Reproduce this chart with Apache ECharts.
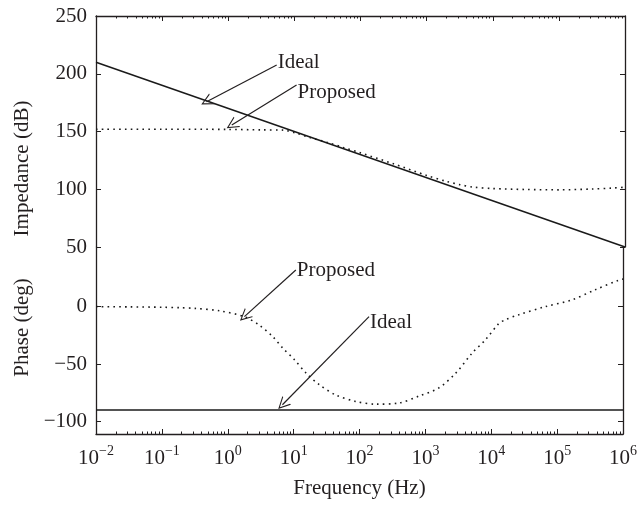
<!DOCTYPE html>
<html>
<head>
<meta charset="utf-8">
<script src="https://cdn.jsdelivr.net/npm/echarts@6/dist/echarts.min.js"></script>
<style>
html, body { margin: 0; padding: 0; background: #fff; }
#chart { width: 640px; height: 505px; }
</style>
</head>
<body>
<div id="chart"></div>
<script>
// frequencies in Hz, impedance in dB, phase in deg
const idealFreq = [0.01, 1e6];
const idealImpedance = [210, 50];
const idealPhase = [-90, -90];

const propZFreq = [0.01, 0.1, 1, 3.16, 6.8, 10, 17.8, 31.6, 56, 100, 316, 1000, 2000, 3160, 5000, 10000, 31600, 100000, 316000, 631000, 1000000];
const propZ = [152, 152, 151.8, 151.4, 151.2, 149, 144.5, 140.5, 136, 131.5, 122, 112, 106.8, 104, 101.9, 100.6, 99.8, 99.5, 100.2, 101, 101.8];

const propPFreq = [0.01, 0.032, 0.1, 0.19, 0.32, 0.76, 1.78, 3.0, 4.8, 6.8, 10.2, 15.5, 24.5, 43.7, 87, 174, 398, 794, 1585, 2884, 5130, 8130, 12900, 16200, 25700, 66100, 166000, 371500, 851000, 1000000];
const propPhase = [0, -0.2, -0.5, -0.9, -1.5, -3.7, -8.7, -16, -26, -36, -46, -58, -68, -77, -82.6, -85, -84, -78, -71, -58, -40.5, -29, -15, -11.5, -7.2, 0, 5.8, 14.5, 23, 24];

// axis ticks (exponents of 10 for the frequency axis)
const decades = [-2, -1, 0, 1, 2, 3, 4, 5, 6];
const impedanceTicks = [50, 100, 150, 200, 250];
const phaseTicks = [-100, -50, 0];

const minorTicks = [];
decades.slice(0, -1).forEach(d => {
  for (let k = 2; k <= 9; k++) minorTicks.push(d + Math.log10(k));
});

const ink = "#231f20";
const font = "'Liberation Serif', 'DejaVu Serif', serif";
const pair = (xs, ys) => xs.map((x, i) => [x, ys[i]]);
const minus = v => String(v).replace("-", "\u2212");

const arrowHead = "path://M5,0 L10,11 L9,11 L5,2.2 L1,11 L0,11 Z";

function annotation(text, tail, tip, dy) {
  return {
    markLine: {
      silent: true,
      symbol: ["none", arrowHead],
      symbolSize: 12,
      lineStyle: { color: ink, width: 1.2, type: "solid" },
      label: { show: false },
      emphasis: { disabled: true },
      data: [[{ coord: tail }, { coord: tip }]]
    },
    markPoint: {
      silent: true,
      symbol: "circle",
      symbolSize: 0,
      label: {
        show: true, position: "right", distance: 1, offset: [0, dy],
        formatter: text, color: ink, fontSize: 21, fontFamily: font
      },
      data: [{ coord: tail, name: text }]
    }
  };
}

const grids = [
  { left: 96, right: 15, top: 16, height: 231 },
  { left: 96, right: 15, top: 247, height: 187 }
];

function freqAxes(gridIndex, pos, labels) {
  return [
    { type: "log", logBase: 10, min: 0.01, max: 1e6, gridIndex: gridIndex, show: false },
    {
      type: "value", min: -2, max: 6, interval: 1, gridIndex: gridIndex, position: pos,
      axisLine: { onZero: false, lineStyle: { color: ink, width: 1.3 } },
      axisTick: { inside: true, length: 5, lineStyle: { color: ink } },
      splitLine: { show: false },
      axisLabel: {
        show: labels, margin: 10, color: ink, fontFamily: font,
        formatter: v => "{b|10}{s|" + minus(v) + "}",
        rich: {
          b: { fontSize: 21, fontFamily: font, color: ink },
          s: { fontSize: 14, fontFamily: font, color: ink, padding: [0, 0, 14, 0] }
        }
      },
      name: labels ? "Frequency (Hz)" : "",
      nameLocation: "middle", nameGap: 44,
      nameTextStyle: { fontSize: 21, fontFamily: font, color: ink }
    },
    {
      type: "value", min: -2, max: 6, gridIndex: gridIndex, position: pos,
      axisLine: { show: false, onZero: false },
      axisTick: { inside: true, length: 2.5, customValues: minorTicks, lineStyle: { color: ink } },
      axisLabel: { show: false },
      splitLine: { show: false }
    }
  ];
}

function valueAxes(gridIndex, min, max, ticks, name, namePad, interval) {
  const base = {
    type: "value", min: min, max: max, gridIndex: gridIndex,
    axisLine: { show: true, onZero: false, lineStyle: { color: ink, width: 1.3 } },
    splitLine: { show: false }
  };
  if (interval) base.interval = interval;
  const tick = { inside: true, length: 5, lineStyle: { color: ink } };
  if (!interval) tick.customValues = ticks;
  const left = Object.assign({}, base, {
    position: "left",
    axisTick: tick,
    axisLabel: Object.assign({
      margin: 9, color: ink, fontSize: 21, fontFamily: font, formatter: v => minus(v)
    }, interval ? {} : { customValues: ticks }),
    name: name, nameLocation: "middle", nameGap: 63,
    nameTextStyle: { fontSize: 21, fontFamily: font, color: ink, padding: namePad }
  });
  const right = Object.assign({}, base, {
    position: "right",
    axisTick: tick,
    axisLabel: { show: false }
  });
  return [left, right];
}

const chart = echarts.init(document.getElementById("chart"));
chart.setOption({
  animation: false,
  backgroundColor: "#fff",
  grid: grids,
  xAxis: [].concat(freqAxes(0, "top", false), freqAxes(1, "bottom", true)),
  yAxis: [].concat(
    valueAxes(0, 50, 250, impedanceTicks, "Impedance (dB)", [0, 74, 0, 0], 50),
    valueAxes(1, -111, 52, phaseTicks, "Phase (deg)", [0, 0, 0, 26], null)
  ),
  series: [
    Object.assign({
      name: "Ideal", type: "line", xAxisIndex: 0, yAxisIndex: 0,
      data: pair(idealFreq, idealImpedance), showSymbol: false,
      lineStyle: { color: "#1a1a1a", width: 1.5 }
    }, annotation("Ideal", [5.4, 207.6], [0.47, 175.8], -2)),
    Object.assign({
      name: "Proposed", type: "line", xAxisIndex: 0, yAxisIndex: 0,
      data: pair(propZFreq, propZ), showSymbol: false, smooth: 0.3,
      lineStyle: { color: "#1a1a1a", width: 1.6, type: [1.6, 4.2] }
    }, annotation("Proposed", [10.8, 190.3], [1.13, 155.6], 8)),
    Object.assign({
      name: "Ideal", type: "line", xAxisIndex: 3, yAxisIndex: 2,
      data: pair(idealFreq, idealPhase), showSymbol: false,
      lineStyle: { color: "#1a1a1a", width: 1.5 }
    }, annotation("Ideal", [139.6, -8.7], [6.76, -85.5], 6)),
    Object.assign({
      name: "Proposed", type: "line", xAxisIndex: 3, yAxisIndex: 2,
      data: pair(propPFreq, propPhase), showSymbol: false, smooth: 0.3,
      lineStyle: { color: "#1a1a1a", width: 1.6, type: [1.6, 4.2] }
    }, annotation("Proposed", [10.8, 31.9], [1.79, -8.7], 0))
  ]
});
</script>
</body>
</html>
